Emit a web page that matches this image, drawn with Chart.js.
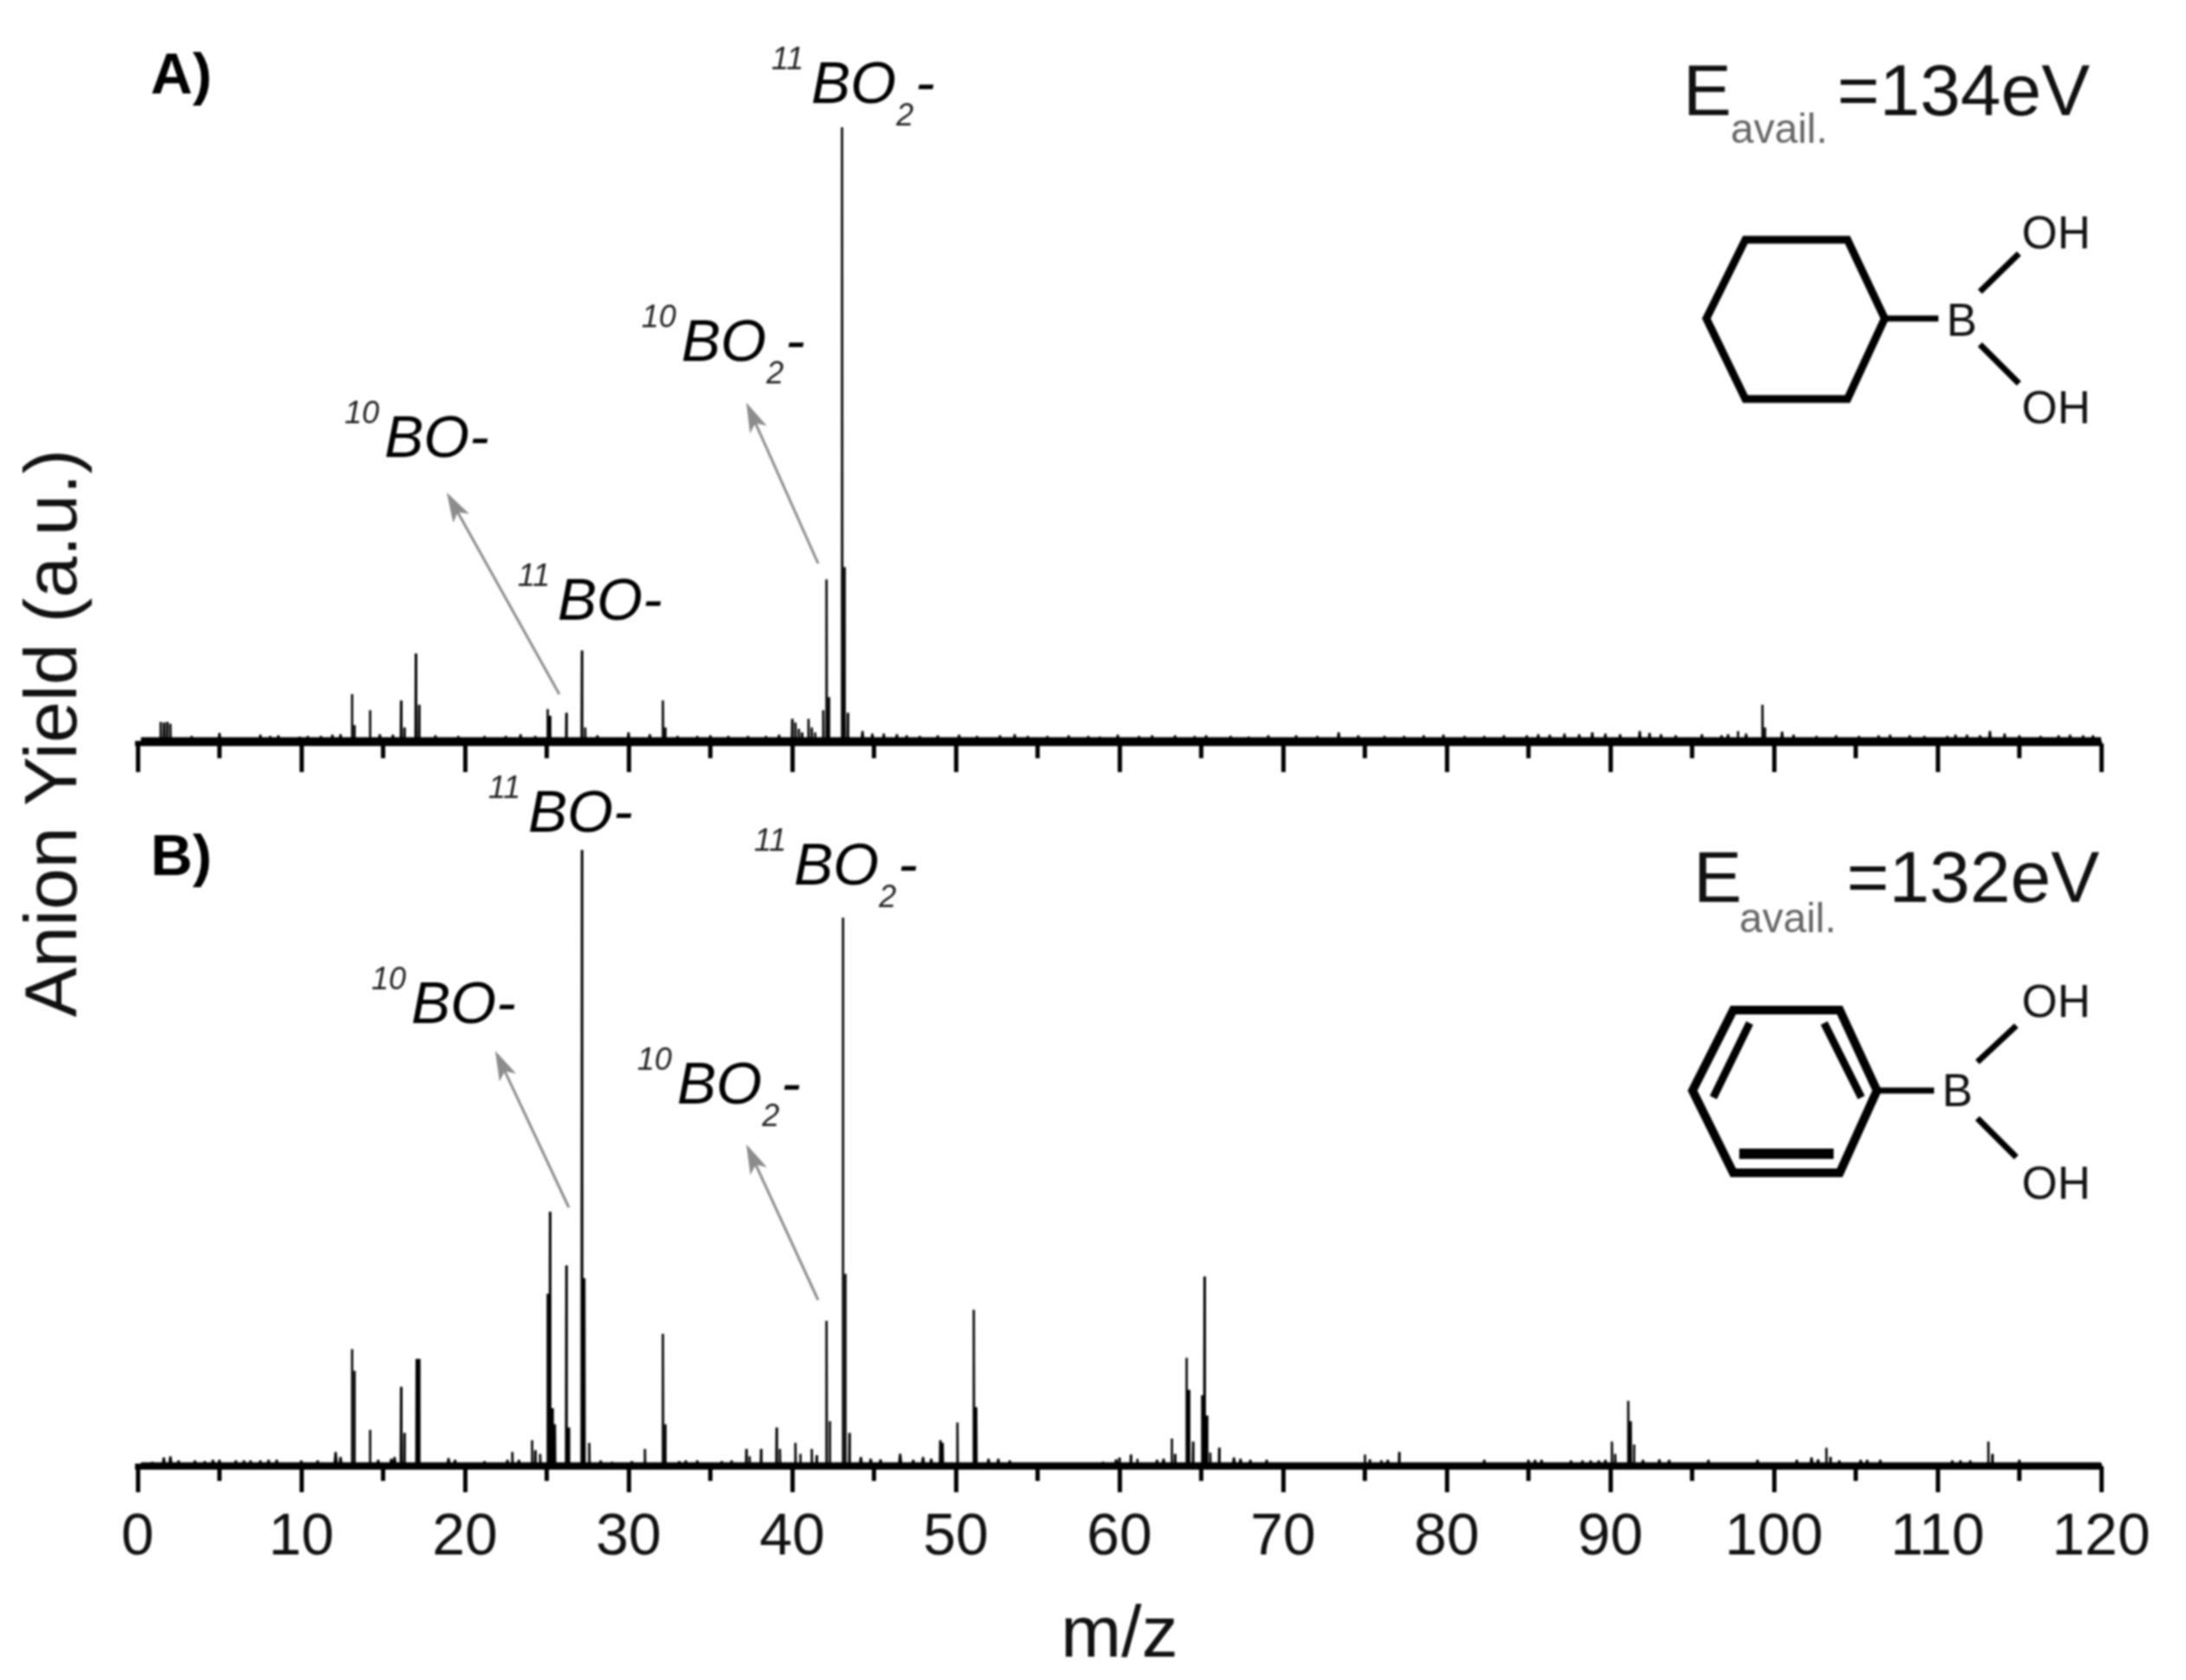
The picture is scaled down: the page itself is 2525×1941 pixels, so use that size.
<!DOCTYPE html>
<html><head><meta charset="utf-8">
<style>html,body{margin:0;padding:0;background:#fff}canvas{display:block;filter:blur(0.9px)}</style>
<script src="https://cdn.jsdelivr.net/npm/chart.js@4/dist/chart.umd.min.js"></script>
</head><body><canvas id="c" width="2525" height="1941"></canvas>
<script>
// Panel A (E avail = 134 eV): main peaks
const mzA = [1.4,1.6,1.8,2.0,13.1,13.25,14.2,16.1,16.3,17.0,17.2,25.05,25.2,26.2,27.15,27.35,32.1,32.25,40.0,40.2,40.4,40.6,41.0,41.2,41.4,41.9,42.1,42.25,43.05,43.2,43.4,99.3,99.45,97.8];
const yieldA = [3.5,3.4,3.5,3.2,8.0,3.0,5.4,7.0,2.6,14.6,6.3,5.6,4.5,5.0,15.1,2.6,7.0,2.6,4.0,3.4,2.4,1.8,4.0,2.6,1.8,5.4,26.6,7.5,100,28.6,5.0,6.3,2.6,2.0];
// Panel A: small noise peaks on the baseline
const noiseMzA = [3.3,5.0,7.5,8.1,8.6,9.9,10.4,11.2,11.9,12.4,14.8,15.6,18.2,19.6,21.2,22.5,23.4,24.3,28.1,30.0,31.3,33.0,34.2,35.0,36.1,37.3,38.4,39.2,44.3,44.9,45.6,46.4,47.0,47.8,48.9,50.2,51.3,52.7,53.6,54.4,55.6,56.9,58.1,58.8,59.9,61.2,62.0,63.4,64.6,65.3,66.8,67.9,69.1,70.8,72.1,73.4,74.6,76.2,77.4,78.6,79.8,81.1,82.3,83.5,84.9,85.6,86.3,87.2,88.1,88.9,89.7,90.6,91.8,92.4,93.1,94.0,95.6,96.8,97.2,98.3,100.5,101.2,102.6,103.8,105.2,106.4,107.1,108.3,109.2,110.6,111.1,111.8,112.6,113.2,114.1,115.0,116.3,117.4,118.1,118.9,119.5];
const noiseYieldA = [1.2,1.7,1.4,1.2,1.3,1.1,1.2,1.2,1.4,1.5,1.5,1.4,1.3,1.2,1.2,1.2,1.5,1.2,1.3,1.8,1.5,1.2,1.2,1.3,1.2,1.2,1.2,1.4,2.0,1.6,1.6,1.5,1.3,1.2,1.3,1.4,1.2,1.3,1.5,1.2,1.2,1.3,1.2,1.1,1.4,1.2,1.3,1.3,1.2,1.3,1.2,1.1,1.3,1.3,1.2,1.8,1.3,1.2,1.2,1.3,1.4,1.2,1.2,1.3,1.3,1.5,1.4,1.6,1.5,1.8,1.6,1.5,2.0,1.7,1.5,1.3,1.5,1.3,1.5,1.6,1.9,1.4,1.2,1.3,1.2,1.3,1.4,1.3,1.2,1.2,1.4,1.4,1.3,2.0,1.6,1.3,1.2,1.3,1.4,1.3,1.3];
const baseMzA = [0.2,120];
const baseYieldA = [0.6,0.6];

// Panel B (E avail = 132 eV): main peaks
const mzB = [13.1,13.25,14.2,16.1,16.3,17.05,17.2,22.9,24.1,24.3,24.6,25.05,25.2,25.35,25.5,26.2,26.35,27.15,27.3,27.6,31.0,32.1,32.25,37.2,37.4,38.1,39.05,39.25,40.2,40.5,41.2,41.5,42.1,42.3,43.1,43.25,43.5,49.05,49.2,50.1,51.1,51.25,60.0,60.7,61.1,63.2,63.4,64.1,64.25,64.5,65.05,65.2,65.35,65.55,66.1,75.0,75.3,76.0,77.1,90.1,90.3,91.1,91.25,91.45,103.2,103.45,113.1,113.35];
const yieldB = [19.0,15.5,5.9,12.9,5.4,17.4,17.4,2.3,4.2,2.6,2.0,28.0,41.3,9.4,6.8,32.6,6.3,100,30.5,3.8,2.8,21.5,6.8,2.8,1.6,2.8,6.3,2.8,3.8,2.0,2.8,1.8,23.6,7.3,89,31.2,5.4,4.2,3.8,7.1,25.4,9.6,1.4,1.9,1.2,4.5,2.0,17.6,12.4,4.0,11.5,30.8,8.2,2.2,3.0,1.9,1.1,1.0,2.3,4.0,2.0,10.6,7.3,3.5,3.0,1.5,4.0,2.0];
// Panel B: small noise peaks on the baseline
const noiseMzB = [0.9,1.6,2.0,2.5,3.5,4.1,4.6,5.0,6.0,6.5,6.9,7.5,8.0,8.5,10.0,11.0,12.1,12.4,14.7,15.5,15.7,19.0,19.4,21.2,22.6,23.3,28.3,29.0,30.2,33.1,33.5,34.2,35.7,36.3,44.2,44.8,45.4,46.6,47.4,48.0,48.5,52.0,52.6,53.3,59.0,59.8,62.3,62.7,67.0,67.4,68.0,69.0,76.4,82.3,85.0,85.4,85.8,87.6,88.3,88.8,89.3,89.7,92.0,93.0,93.6,96.0,99.0,101.4,102.3,102.7,104.0,105.3,105.7,106.5,110.9,111.4,112.0,115.0];
const noiseYieldB = [0.7,1.4,1.6,0.9,0.9,0.8,1.0,1.0,0.9,0.9,0.9,0.9,1.0,1.0,0.9,0.9,2.3,1.5,1.0,1.2,1.5,1.3,1.0,0.8,1.0,1.0,0.9,0.7,0.8,0.8,0.9,0.9,0.8,0.9,1.5,1.2,1.1,2.0,1.0,1.5,1.2,1.2,1.2,0.9,0.7,1.1,1.0,1.2,1.4,1.2,1.0,1.0,1.0,1.0,1.0,1.0,1.0,0.9,0.9,0.9,0.9,1.0,1.0,1.1,1.0,1.0,1.0,1.0,1.4,1.1,0.9,1.0,1.0,1.0,0.9,0.9,0.9,1.0];
const baseMzB = [0.2,120];
const baseYieldB = [0.35,0.35];

const mzTicksMajor = [0,10,20,30,40,50,60,70,80,90,100,110,120];

const FONT = '"Liberation Sans", Arial, sans-serif';
const INK = '#000';

// every stick rises from zero to its value and falls back
function sticks(xs, ys, half) {
  const pts = [];
  const order = xs.map((_, i) => i).sort((a, b) => xs[a] - xs[b]);
  for (const i of order) {
    pts.push({x: xs[i] - half, y: 0}, {x: xs[i], y: ys[i]}, {x: xs[i] + half, y: 0});
  }
  return pts;
}
function flat(xs, ys) { return xs.map((x, i) => ({x, y: ys[i]})); }
function lineSet(data, xAxisID, yAxisID, width) {
  return {data, xAxisID, yAxisID, showLine: true, borderColor: INK, borderWidth: width,
    borderJoinStyle: 'bevel', pointRadius: 0, tension: 0, clip: false};
}

const PX_PER_UNIT = 7.12;
const AREA_H = 1694;
const baselineGap = 835 / PX_PER_UNIT;
const xCommon = {type: 'linear', min: 0, max: 120};
const tickAxis = (len, step, extra) => Object.assign({}, xCommon, {
  grid: {drawOnChartArea: false, drawTicks: true, tickLength: len, tickWidth: 5, tickColor: INK},
  ticks: {display: false, stepSize: step, autoSkip: false},
  border: {display: false}
}, extra);

const labels = [
  {iso: '11', sub: true,  x: 937, y: 119},
  {iso: '10', sub: true,  x: 787, y: 417},
  {iso: '10', sub: false, x: 444, y: 528},
  {iso: '11', sub: false, x: 644, y: 716},
  {iso: '11', sub: false, x: 610, y: 961},
  {iso: '11', sub: true,  x: 917, y: 1022},
  {iso: '10', sub: false, x: 475, y: 1182},
  {iso: '10', sub: true,  x: 782, y: 1275}
];
const arrows = [[646,802,516,569],[945,651,862,465],[657,1395,572,1214],[945,1502,862,1322]];

function seg(ctx, pts, w, close) {
  ctx.lineWidth = w; ctx.lineJoin = 'miter'; ctx.lineCap = 'butt';
  ctx.beginPath(); pts.forEach((p, i) => i ? ctx.lineTo(p[0], p[1]) : ctx.moveTo(p[0], p[1]));
  if (close) ctx.closePath();
  ctx.stroke();
}

const notes = {
  id: 'notes',
  afterDraw(chart) {
    const ctx = chart.ctx;
    ctx.save();
    ctx.textBaseline = 'alphabetic';
    ctx.textAlign = 'left';
    ctx.fillStyle = INK;
    ctx.font = 'bold 67px ' + FONT;
    ctx.fillText('A)', 174, 108);
    ctx.fillText('B)', 174, 1011);
    for (const l of labels) {
      ctx.font = 'italic 36px ' + FONT;
      ctx.fillStyle = '#222';
      ctx.fillText(l.iso, l.x - 46, l.y - 39);
      ctx.fillStyle = INK;
      ctx.font = 'italic 68px ' + FONT;
      ctx.fillText('BO', l.x, l.y);
      const w = ctx.measureText('BO').width;
      if (l.sub) {
        ctx.font = 'italic 36px ' + FONT;
        ctx.fillStyle = '#222';
        ctx.fillText('2', l.x + w, l.y + 26);
        ctx.fillStyle = INK;
        ctx.font = 'italic 68px ' + FONT;
        ctx.fillText('-', l.x + w + 22, l.y);
      } else {
        ctx.fillText('-', l.x + w, l.y);
      }
    }
    for (const a of arrows) {
      const [x1, y1, x2, y2] = a;
      const ang = Math.atan2(y2 - y1, x2 - x1);
      ctx.strokeStyle = ctx.fillStyle = '#8c8c8c';
      ctx.lineWidth = 3;
      ctx.beginPath(); ctx.moveTo(x1, y1);
      ctx.lineTo(x2 - 22 * Math.cos(ang), y2 - 22 * Math.sin(ang)); ctx.stroke();
      ctx.beginPath(); ctx.moveTo(x2, y2);
      ctx.lineTo(x2 - 36 * Math.cos(ang - 0.3), y2 - 36 * Math.sin(ang - 0.3));
      ctx.lineTo(x2 - 26 * Math.cos(ang), y2 - 26 * Math.sin(ang));
      ctx.lineTo(x2 - 36 * Math.cos(ang + 0.3), y2 - 36 * Math.sin(ang + 0.3));
      ctx.closePath(); ctx.fill();
    }
    // Energy labels
    ctx.fillStyle = '#111';
    ctx.font = '84px ' + FONT;
    ctx.fillText('E', 1944, 133);
    ctx.fillText('=134eV', 2122, 133);
    ctx.fillText('E', 1956, 1042);
    ctx.fillText('=132eV', 2133, 1042);
    ctx.fillStyle = '#666';
    ctx.font = '48px ' + FONT;
    ctx.fillText('avail.', 1999, 165);
    ctx.fillText('avail.', 2009, 1077);
    // Molecules
    ctx.strokeStyle = INK;
    seg(ctx, [[2016,277],[2134,277],[2177,368],[2134,461],[2016,461],[1971,368]], 9, true);
    seg(ctx, [[2177,368],[2239,368]], 7);
    seg(ctx, [[2287,337],[2332,293]], 7);
    seg(ctx, [[2287,398],[2332,443]], 7);
    seg(ctx, [[2002,1167],[2125,1167],[2168,1260],[2125,1355],[2002,1355],[1955,1260]], 10, true);
    seg(ctx, [[2021,1182],[1979,1268]], 9);
    seg(ctx, [[2107,1182],[2150,1268]], 9);
    seg(ctx, [[2009,1333],[2118,1333]], 12);
    seg(ctx, [[2168,1260],[2234,1260]], 7);
    seg(ctx, [[2284,1227],[2329,1185]], 7);
    seg(ctx, [[2284,1292],[2329,1337]], 7);
    ctx.fillStyle = '#111';
    ctx.font = '53px ' + FONT;
    ctx.textAlign = 'center'; ctx.textBaseline = 'middle';
    [['B',2266,373],['OH',2375,272],['OH',2375,474],['B',2261,1263],['OH',2375,1160],['OH',2375,1370]]
      .forEach(t => ctx.fillText(t[0], t[1], t[2]));
    ctx.restore();
  }
};

new Chart(document.getElementById('c'), {
  type: 'scatter',
  data: {datasets: [
    lineSet(flat(baseMzA, baseYieldA), 'xA', 'yA', 6),
    lineSet(sticks(noiseMzA, noiseYieldA, 0.08), 'xA', 'yA', 2.6),
    lineSet(sticks(mzA, yieldA, 0.02), 'xA', 'yA', 2.6),
    lineSet(flat(baseMzB, baseYieldB), 'x', 'yB', 4),
    lineSet(sticks(noiseMzB, noiseYieldB, 0.08), 'x', 'yB', 2.6),
    lineSet(sticks(mzB, yieldB, 0.02), 'x', 'yB', 2.6)
  ]},
  plugins: [notes],
  options: {
    responsive: false, animation: false, events: [],
    layout: {padding: {right: 98}},
    plugins: {legend: {display: false}, tooltip: {enabled: false}, title: {display: false}},
    scales: {
      x: Object.assign({}, xCommon, {
        position: 'bottom',
        afterFit(s) { s.height = 1941 - AREA_H; },
        afterBuildTicks(s) { s.ticks = mzTicksMajor.map(v => ({value: v})); },
        grid: {drawOnChartArea: false, drawTicks: true, tickLength: 30, tickWidth: 5, tickColor: INK},
        border: {display: true, color: INK, width: 7},
        ticks: {color: '#111', font: {family: FONT, size: 68}, padding: 12, maxRotation: 0, autoSkip: false},
        title: {display: true, text: 'm/z', color: '#111', font: {family: FONT, size: 84}, padding: {top: 6, bottom: 0}}
      }),
      xMinorB: tickAxis(17, 5, {position: {yB: 0}}),
      xA: Object.assign({}, xCommon, {
        position: {yA: 0},
        afterBuildTicks(s) { s.ticks = mzTicksMajor.map(v => ({value: v})); },
        grid: {drawOnChartArea: false, drawTicks: true, tickLength: 30, tickWidth: 5, tickColor: INK},
        ticks: {display: false},
        border: {display: true, color: INK, width: 6}
      }),
      xMinorA: tickAxis(17, 5, {position: {yA: 0}}),
      yB: {
        type: 'linear', position: 'left', min: 0, max: AREA_H / PX_PER_UNIT,
        afterFit(s) { s.width = 159; },
        grid: {display: false}, border: {display: false},
        ticks: {display: false},
        title: {display: true, text: 'Anion Yield (a.u.)', color: '#111', font: {family: FONT, size: 86}, padding: {top: 13, bottom: 0}}
      },
      yA: {
        type: 'linear', display: false, min: -baselineGap, max: AREA_H / PX_PER_UNIT - baselineGap
      }
    }
  }
});
</script></body></html>
